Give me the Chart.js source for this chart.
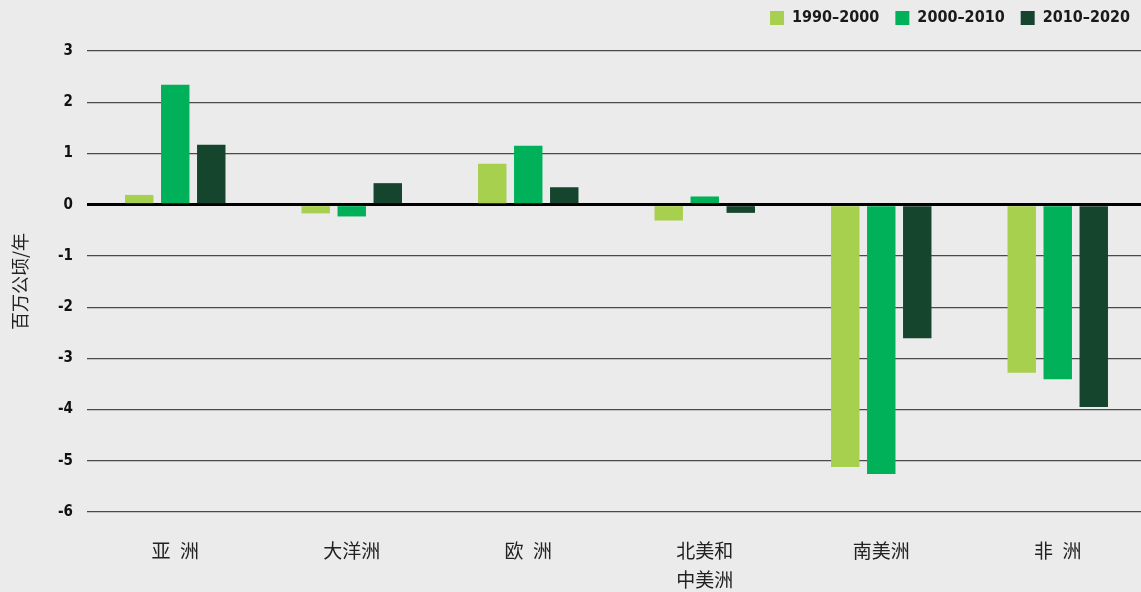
<!DOCTYPE html>
<html>
<head>
<meta charset="utf-8">
<script src="https://cdn.jsdelivr.net/npm/chart.js@4.4.1/dist/chart.umd.min.js"></script>
<style>
  html, body { margin: 0; padding: 0; background: #ebebeb; overflow: hidden; }
  #wrap { width: 1146px; height: 592px; position: relative; }
</style>
</head>
<body>
<div id="wrap"><canvas id="forestChart"></canvas></div>
<script>
// Net forest change by region, million ha per year
const regions = ['亚\u2002洲', '大洋洲', '欧\u2002洲', ['北美和', '中美洲'], '南美洲', '非\u2002洲'];
const periods = ['1990–2000', '2000–2010', '2010–2020'];
const change1990 = [0.19, -0.17, 0.80, -0.31, -5.12, -3.28];
const change2000 = [2.34, -0.23, 1.15, 0.16, -5.26, -3.41];
const change2010 = [1.17, 0.42, 0.34, -0.16, -2.61, -3.95];
const yTicks = [-6, -5, -4, -3, -2, -1, 0, 1, 2, 3];
const colors = ['#a8d04f', '#00b159', '#16452d'];

const narrow = "'Liberation Sans Narrow', 'DejaVu Sans Condensed', 'Arial Narrow', sans-serif";
const cjk = "'Noto Sans CJK SC', 'Noto Sans', sans-serif";

const values = [change1990, change2000, change2010];

// legend sits near the top edge, plot area starts a bit lower
const legendGap = {
    id: 'legendGap',
    beforeLayout(chart) {
        const lg = chart.legend;
        if (lg && !lg._gapPatched) {
            const fit = lg.fit;
            lg.fit = function() {
                fit.call(this);
                this.height += 9;
            };
            lg._gapPatched = true;
        }
    },
    afterLayout(chart) {
        if (chart.legend) chart.legend.top -= 6;
    }
};

new Chart(document.getElementById('forestChart'), {
    type: 'bar',
    data: {
        labels: regions,
        datasets: periods.map((p, i) => ({
            label: p,
            data: values[i],
            backgroundColor: colors[i],
            borderWidth: 0,
            categoryPercentage: 0.612,
            barPercentage: 0.79
        }))
    },
    plugins: [legendGap],
    options: {
        responsive: true,
        maintainAspectRatio: false,
        animation: false,
        layout: { padding: 0 },
        plugins: {
            tooltip: { enabled: false },
            legend: {
                position: 'top',
                align: 'end',
                labels: {
                    boxWidth: 14,
                    boxHeight: 14,
                    padding: 16,
                    color: '#1a1a1a',
                    font: { family: narrow, size: 16, weight: 'bold' }
                }
            }
        },
        scales: {
            x: {
                grid: { display: false, drawTicks: false },
                border: { display: false },
                ticks: {
                    padding: 25,
                    maxRotation: 0,
                    color: '#222',
                    font: { family: cjk, size: 19, lineHeight: 1.5 }
                },
                afterFit: scale => { scale.height = 80; }
            },
            y: {
                min: -6,
                max: 3,
                afterBuildTicks: scale => { scale.ticks = yTicks.map(v => ({ value: v })); },
                grid: {
                    drawTicks: false,
                    color: ctx => ctx.tick && ctx.tick.value === 0 ? '#000' : '#4a4a4a',
                    lineWidth: ctx => ctx.tick && ctx.tick.value === 0 ? 3 : 1.2
                },
                border: { display: false },
                ticks: {
                    padding: 14,
                    color: '#111',
                    font: { family: narrow, size: 15, weight: 'bold' }
                },
                title: {
                    display: true,
                    text: '百万公顷/年',
                    color: '#222',
                    padding: { top: 9, bottom: 0 },
                    font: { family: cjk, size: 18 }
                },
                afterFit: scale => { scale.width = 87; }
            }
        }
    }
});
</script>
</body>
</html>
